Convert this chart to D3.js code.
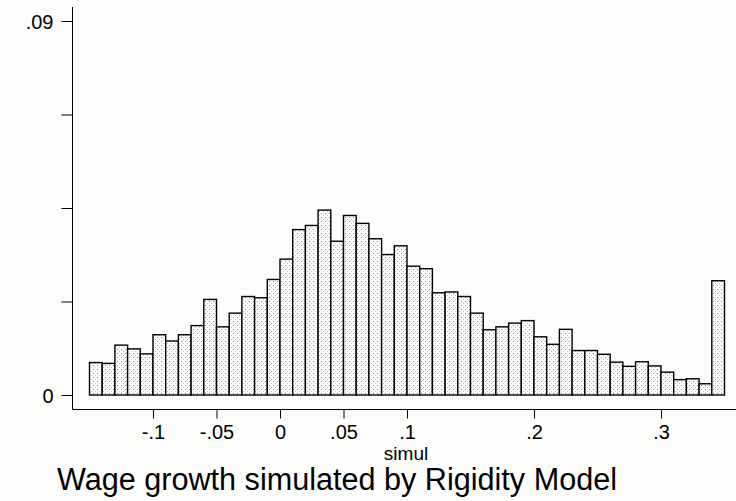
<!DOCTYPE html>
<head>
  <meta charset="utf-8">
  <title>Wage growth simulated by Rigidity Model</title>
  <style>
    body { margin: 0; background: #fdfdfb; }
    svg { display: block; font-family: Arial, "Liberation Sans", sans-serif; }
    .axis .domain { display: none; }
    .axis line { stroke: #000; }
    .axis text { fill: #000; font-size: 20px; }
  </style>
</head>
<body>
  <svg width="736" height="501"></svg>
  <script src="https://d3js.org/d3.v7.min.js"></script>
  <script>

    // lower edge of each bin (width .01)
    var binStarts = [-0.15, -0.14, -0.13, -0.12, -0.11, -0.10, -0.09, -0.08, -0.07, -0.06,
                     -0.05, -0.04, -0.03, -0.02, -0.01, 0.00, 0.01, 0.02, 0.03, 0.04,
                     0.05, 0.06, 0.07, 0.08, 0.09, 0.10, 0.11, 0.12, 0.13, 0.14,
                     0.15, 0.16, 0.17, 0.18, 0.19, 0.20, 0.21, 0.22, 0.23, 0.24,
                     0.25, 0.26, 0.27, 0.28, 0.29, 0.30, 0.31, 0.32, 0.33, 0.34];
    var binWidth = 0.01;

    // fraction of observations in each bin
    var fractions = [0.0078, 0.0076, 0.0120, 0.0111, 0.0099, 0.0145, 0.0130, 0.0145, 0.0167, 0.0230,
                     0.0164, 0.0197, 0.0237, 0.0234, 0.0278, 0.0327, 0.0398, 0.0408, 0.0445, 0.0370,
                     0.0432, 0.0413, 0.0376, 0.0338, 0.0359, 0.0310, 0.0304, 0.0246, 0.0248, 0.0237,
                     0.0197, 0.0157, 0.0164, 0.0173, 0.0179, 0.0140, 0.0122, 0.0158, 0.0107, 0.0107,
                     0.0098, 0.0079, 0.0069, 0.0080, 0.0070, 0.0055, 0.0037, 0.0039, 0.0027, 0.0275];

    var xTicks = [-0.1, -0.05, 0, 0.05, 0.1, 0.2, 0.3];
    var xTickLabels = ["-.1", "-.05", "0", ".05", ".1", ".2", ".3"];
    var yTicks = [0, 0.0225, 0.045, 0.0675, 0.09];
    var yTickLabels = ["0", "", "", "", ".09"];

    var svg = d3.select("svg");

    var x = d3.scaleLinear().domain([-0.15, 0.35]).range([89.5, 724.5]);
    var y = d3.scaleLinear().domain([0, 0.09]).range([395, 21]);

    var axisX = 72.5, axisY = 409.5;

    // dotted fill like the stata bar shading
    var pat = svg.append("defs").append("pattern")
        .attr("id", "dots")
        .attr("patternUnits", "userSpaceOnUse")
        .attr("width", 4)
        .attr("height", 4);
    pat.append("rect").attr("width", 4).attr("height", 4).attr("fill", "#fdfdfb");
    pat.append("rect").attr("x", 1).attr("y", 1).attr("width", 1).attr("height", 1).attr("fill", "#8a8a8a");
    pat.append("rect").attr("x", 3).attr("y", 3).attr("width", 1).attr("height", 1).attr("fill", "#c4c4c4");

    var data = binStarts.map(function(b, i) { return {x0: b, x1: b + binWidth, v: fractions[i]}; });

    svg.append("g")
      .selectAll("rect")
      .data(data)
      .enter().append("rect")
        .attr("x", function(d) { return x(d.x0); })
        .attr("y", function(d) { return y(d.v); })
        .attr("width", function(d) { return x(d.x1) - x(d.x0); })
        .attr("height", function(d) { return y(0) - y(d.v); })
        .attr("fill", "url(#dots)")
        .attr("stroke", "#000")
        .attr("stroke-width", 1.4);

    // axes
    var yAxis = svg.append("g")
        .attr("class", "axis")
        .attr("transform", "translate(" + axisX + ",0)")
        .call(d3.axisLeft(y)
          .tickValues(yTicks)
          .tickSize(11)
          .tickPadding(8)
          .tickFormat(function(d, i) { return yTickLabels[i]; }));
    yAxis.selectAll("text").attr("dy", "0.36em");

    svg.append("line")
        .attr("x1", axisX).attr("x2", axisX)
        .attr("y1", 7).attr("y2", axisY)
        .attr("stroke", "#000");

    svg.append("g")
        .attr("class", "axis")
        .attr("transform", "translate(0," + axisY + ")")
        .call(d3.axisBottom(x)
          .tickValues(xTicks)
          .tickSize(9)
          .tickPadding(6)
          .tickFormat(function(d, i) { return xTickLabels[i]; }));

    svg.append("line")
        .attr("x1", axisX).attr("x2", 736)
        .attr("y1", axisY).attr("y2", axisY)
        .attr("stroke", "#000");

    svg.append("text")
        .attr("x", 406)
        .attr("y", 460)
        .attr("text-anchor", "middle")
        .attr("font-size", 19)
        .text("simul");

    svg.append("text")
        .attr("x", 57)
        .attr("y", 490)
        .attr("font-size", 30.6)
        .text("Wage growth simulated by Rigidity Model");
  </script>
</body>
